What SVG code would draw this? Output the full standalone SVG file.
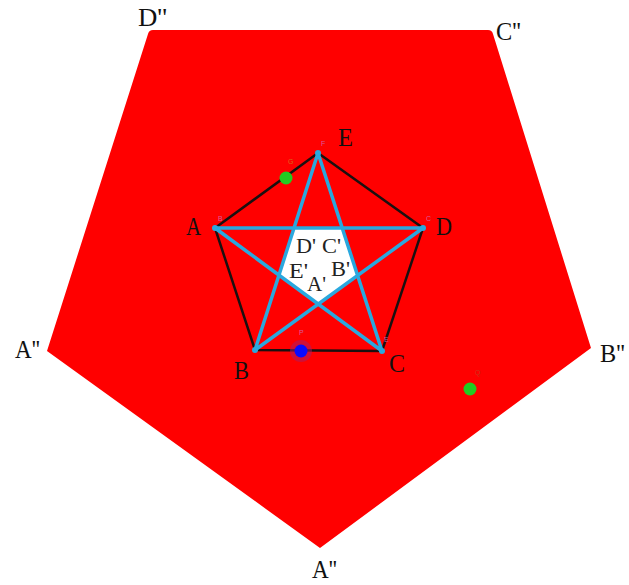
<svg xmlns="http://www.w3.org/2000/svg" width="629" height="585" viewBox="0 0 629 585">
<style>
.lbl{font-family:"Liberation Serif","Times New Roman",serif;font-size:26px;fill:#111}
.in{font-family:"Liberation Serif","Times New Roman",serif;font-size:20px;fill:#222}
.tiny{font-family:"Liberation Sans",Arial,sans-serif;font-size:7px;fill:#d070c0;opacity:0.8}
.edge{stroke:#1a1010;stroke-width:2.5;fill:none;stroke-linecap:round}
.star{stroke:#2aa8de;stroke-width:3.5;fill:none;stroke-linecap:round}
.vtx{fill:#2aa8de}
</style>
<rect width="629" height="585" fill="#ffffff"/>
<g id="outer">
<path d="M153,30 L488,30 Q492,30 493,34 L591,348 L320,548 L47,351 L148,34 Q149,30 153,30 Z" fill="#ff0000"/>
</g>
<g id="inner-pentagon">
<polygon points="294,228 342,228 358,275 318,304 279,275" fill="#ffffff"/>
</g>
<g id="connectors">
<path class="edge" d="M215,228 L318,153 L423,228 L382,351 L255,350 Z"/>
<path class="star" d="M215,228 L423,228 M215,228 L382,351 M318,153 L255,350 M318,153 L382,351 M255,350 L423,228"/>
</g>
<g id="vertices">
<circle class="vtx" cx="318" cy="153" r="3"/>
<circle class="vtx" cx="215" cy="228" r="3"/>
<circle class="vtx" cx="423" cy="228" r="3"/>
<circle class="vtx" cx="255" cy="350" r="3"/>
<circle class="vtx" cx="382" cy="351" r="3"/>
</g>
<g id="points">
<circle cx="286" cy="178" r="6.5" fill="#22cc22"/>
<circle cx="470" cy="389" r="6.5" fill="#22cc22"/>
<circle cx="301" cy="351" r="11" fill="#a02070" opacity="0.5"/>
<circle cx="301" cy="351" r="6.5" fill="#0a0aff"/>
</g>
<g id="tiny-labels">
<text class="tiny" x="321" y="146">F</text>
<text class="tiny" x="218" y="221">B</text>
<text class="tiny" x="426" y="221">C</text>
<text class="tiny" x="384" y="342">E</text>
<text class="tiny" x="299" y="335">P</text>
<text class="tiny" x="288" y="164" style="fill:#d08020">G</text>
<text class="tiny" x="475" y="375" style="fill:#c04020">Q</text>
</g>
<g id="labels">
<text class="lbl" x="138" y="26" textLength="29" lengthAdjust="spacingAndGlyphs">D''</text>
<text class="lbl" x="496" y="40" textLength="25" lengthAdjust="spacingAndGlyphs">C''</text>
<text class="lbl" x="15" y="358" textLength="25" lengthAdjust="spacingAndGlyphs">A''</text>
<text class="lbl" x="600" y="362" textLength="25" lengthAdjust="spacingAndGlyphs">B''</text>
<text class="lbl" x="312" y="578" textLength="25" lengthAdjust="spacingAndGlyphs">A''</text>
<text class="lbl" x="338" y="146" textLength="15" lengthAdjust="spacingAndGlyphs">E</text>
<text class="lbl" x="186" y="235" textLength="15" lengthAdjust="spacingAndGlyphs">A</text>
<text class="lbl" x="436" y="235" textLength="16" lengthAdjust="spacingAndGlyphs">D</text>
<text class="lbl" x="234" y="379" textLength="15" lengthAdjust="spacingAndGlyphs">B</text>
<text class="lbl" x="389" y="372" textLength="16" lengthAdjust="spacingAndGlyphs">C</text>
<text class="in" x="296" y="253" textLength="20" lengthAdjust="spacingAndGlyphs">D'</text>
<text class="in" x="322" y="253" textLength="19" lengthAdjust="spacingAndGlyphs">C'</text>
<text class="in" x="289" y="278" textLength="19" lengthAdjust="spacingAndGlyphs">E'</text>
<text class="in" x="331" y="276" textLength="19" lengthAdjust="spacingAndGlyphs">B'</text>
<text class="in" x="307" y="291" textLength="19" lengthAdjust="spacingAndGlyphs">A'</text>
</g>
</svg>
